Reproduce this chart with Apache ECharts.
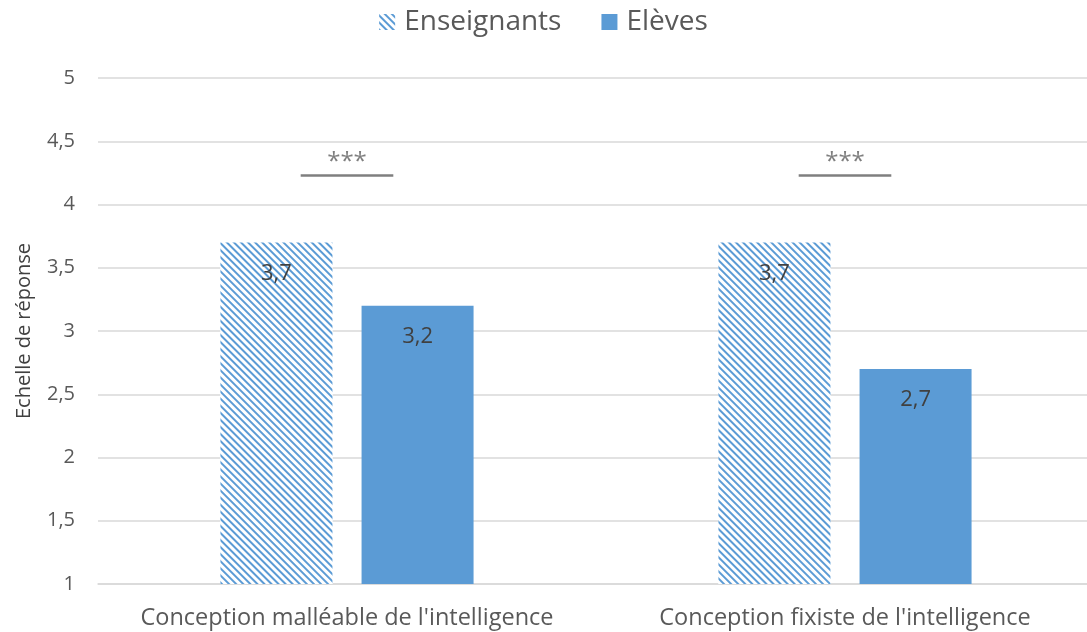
<!DOCTYPE html>
<html>
<head>
<meta charset="utf-8">
<script src="https://cdn.jsdelivr.net/npm/echarts@6/dist/echarts.min.js"></script>
<style>
html, body { margin: 0; padding: 0; background: #fff; }
#chart { width: 1087px; height: 632px; }
</style>
</head>
<body>
<div id="chart"></div>
<script>
var categories = ["Conception malléable de l'intelligence", "Conception fixiste de l'intelligence"];
var enseignants = [3.7, 3.7];
var eleves = [3.2, 2.7];
var sigLevel = [4.23, 4.23];
var sigText = ['***', '***'];

var chart = echarts.init(document.getElementById('chart'));
var font = '"Open Sans", "Noto Sans", sans-serif';
var fmt = function (v) { return String(v).replace('.', ','); };

var option = {
    textStyle: { fontFamily: font },
    legend: {
        top: 3,
        left: 'center',
        icon: 'rect',
        itemWidth: 16,
        itemHeight: 16,
        itemGap: 40,
        textStyle: { fontSize: 28, color: '#595959', fontFamily: font, padding: [0, 0, 0, 4] },
        data: ['Enseignants', 'Elèves']
    },
    grid: { left: 98, width: 996, top: 78, bottom: 48, outerBoundsMode: 'none', containLabel: false },
    xAxis: {
        type: 'category',
        data: categories,
        axisLine: { lineStyle: { color: '#d9d9d9', width: 1.5 } },
        axisTick: { show: false },
        axisLabel: { fontSize: 23.5, color: '#595959', margin: 22, interval: 0, hideOverlap: false, fontFamily: font }
    },
    yAxis: {
        type: 'value',
        min: 1,
        max: 5,
        interval: 0.5,
        name: 'Echelle de réponse',
        nameLocation: 'middle',
        nameGap: 64,
        nameTextStyle: { fontSize: 20, color: '#404040', fontFamily: font },
        axisLine: { show: false },
        axisTick: { show: false },
        splitLine: { lineStyle: { color: '#d9d9d9', width: 1.5 } },
        axisLabel: { fontSize: 20, color: '#595959', margin: 23, formatter: fmt, fontFamily: font }
    },
    series: [
        {
            name: 'Enseignants',
            type: 'bar',
            barWidth: 112,
            barGap: '26%',
            data: enseignants,
            itemStyle: {
                color: '#ffffff',
                decal: {
                    color: '#5b9bd5',
                    backgroundColor: '#ffffff',
                    symbol: 'rect',
                    dashArrayX: [1, 0],
                    dashArrayY: [1.5, 3],
                    rotation: Math.PI / 4
                }
            },
            label: {
                show: true,
                position: 'insideTop',
                distance: 20,
                fontSize: 22,
                color: '#404040',
                formatter: function (p) { return fmt(p.value); }
            }
        },
        {
            name: 'Elèves',
            type: 'bar',
            barWidth: 112,
            data: eleves,
            itemStyle: { color: '#5b9bd5' },
            label: {
                show: true,
                position: 'insideTop',
                distance: 20,
                fontSize: 22,
                color: '#404040',
                formatter: function (p) { return fmt(p.value); }
            }
        },
        {
            type: 'custom',
            silent: true,
            data: sigLevel,
            renderItem: function (params, api) {
                var pt = api.coord([api.value(0), api.value(1)]);
                var band = api.size([1, 0])[0];
                var half = band * 0.093;
                return {
                    type: 'group',
                    children: [
                        {
                            type: 'line',
                            shape: { x1: pt[0] - half, y1: pt[1], x2: pt[0] + half, y2: pt[1] },
                            style: { stroke: '#7f7f7f', lineWidth: 2.5 }
                        },
                        {
                            type: 'text',
                            style: {
                                x: pt[0], y: pt[1] - 1,
                                text: sigText[params.dataIndex],
                                fill: '#7f7f7f',
                                font: '24px ' + font,
                                align: 'center',
                                verticalAlign: 'bottom'
                            }
                        }
                    ]
                };
            }
        }
    ]
};

chart.setOption(option);
</script>
</body>
</html>
